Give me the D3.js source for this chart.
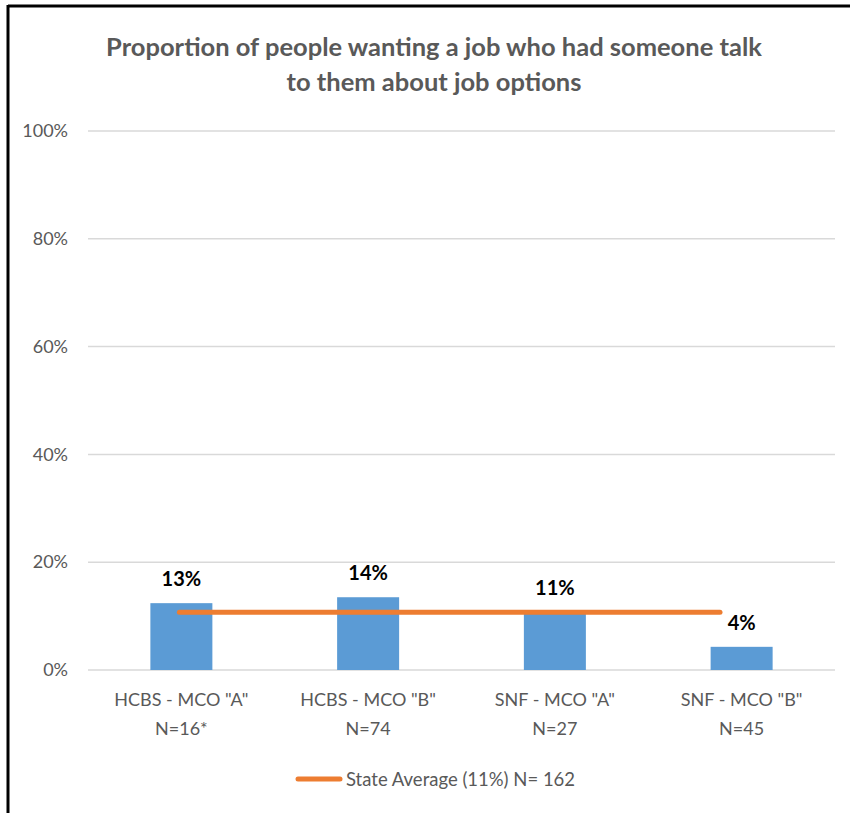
<!DOCTYPE html>
<html><head><meta charset="utf-8">
<script src="https://cdn.jsdelivr.net/npm/d3@7"></script>
<style>body{margin:0;background:#fff;} svg{display:block;}</style>
</head><body>
<svg id="c" width="850" height="813"></svg>
<script>
const categories = ['HCBS - MCO "A"', 'HCBS - MCO "B"', 'SNF - MCO "A"', 'SNF - MCO "B"'];
const sampleSizes = ['N=16*', 'N=74', 'N=27', 'N=45'];
const values = [12.4, 13.5, 10.8, 4.3];
const valueLabels = ['13%', '14%', '11%', '4%'];
const stateAverage = [10.7, 10.7, 10.7, 10.7];
const yTicks = [0, 20, 40, 60, 80, 100];
const titleLines = ['Proportion of people wanting a job who had someone talk', 'to them about job options'];
const legendLabel = 'State Average (11%) N= 162';

(function(){
const font = 'Lato, "Open Sans", sans-serif';
const svg = d3.select('#c');
svg.append('rect').attr('x',0).attr('y',0).attr('width',850).attr('height',813).attr('fill','#fff');
// frame
svg.append('line').attr('x1',8).attr('x2',850).attr('y1',6).attr('y2',6).attr('stroke','#000').attr('stroke-width',3);
svg.append('line').attr('x1',8).attr('x2',8).attr('y1',5).attr('y2',813).attr('stroke','#000').attr('stroke-width',3);

const pL = 88, pR = 835, pT = 131, pB = 670;
const x = d3.scaleBand().domain(categories).range([pL, pR]).paddingInner(0.668).paddingOuter(0.334);
const y = d3.scaleLinear().domain([0, 100]).range([pB, pT]);

// gridlines
svg.append('g').selectAll('line').data(yTicks).join('line')
  .attr('x1', pL).attr('x2', pR)
  .attr('y1', d => y(d)).attr('y2', d => y(d))
  .attr('stroke', '#d9d9d9').attr('stroke-width', 1.5);

// y axis labels
const yAxis = d3.axisLeft(y).tickValues(yTicks).tickFormat(d => d + '%').tickSize(0).tickPadding(20);
const ya = svg.append('g').attr('transform', `translate(${pL},0)`).call(yAxis);
ya.select('.domain').remove();
ya.selectAll('text').attr('fill', '#595959').style('font-family', font).style('font-size', '18px');

// bars
svg.append('g').selectAll('rect').data(values).join('rect')
  .attr('x', (d, i) => x(categories[i]))
  .attr('width', x.bandwidth())
  .attr('y', d => y(d))
  .attr('height', d => y(0) - y(d))
  .attr('fill', '#5b9bd5');

// state average line (secondary positioning)
const x2 = d3.scaleLinear().domain([0, stateAverage.length - 1]).range([x(categories[0]) + x.bandwidth()/2 - 2, 720]);
svg.append('path')
  .attr('d', d3.line().x((d, i) => x2(i)).y(d => y(d))(stateAverage))
  .attr('stroke', '#ed7d31').attr('stroke-width', 5).attr('fill', 'none').attr('stroke-linecap', 'round');

// value labels
svg.append('g').selectAll('text').data(values).join('text')
  .attr('x', (d, i) => x(categories[i]) + x.bandwidth()/2)
  .attr('y', d => y(d) - 17)
  .attr('text-anchor', 'middle')
  .attr('fill', '#000')
  .style('font-family', font).style('font-weight', 'bold').style('font-size', '20px')
  .text((d, i) => valueLabels[i]);

// category labels
const cat = svg.append('g');
categories.forEach((c, i) => {
  const cx = x(c) + x.bandwidth()/2;
  const t = cat.append('text').attr('x', cx).attr('y', 706).attr('text-anchor', 'middle')
    .attr('fill', '#595959').style('font-family', font).style('font-size', '18px');
  t.append('tspan').attr('x', cx).attr('dy', 0).text(c);
  t.append('tspan').attr('x', cx).attr('dy', 29).text(sampleSizes[i]);
});

// title
const title = svg.append('text').attr('text-anchor', 'middle').attr('fill', '#595959')
  .style('font-family', font).style('font-weight', 'bold').style('font-size', '25.5px');
titleLines.forEach((l, i) => title.append('tspan').attr('x', 434).attr('y', 56 + i * 35).text(l));

// legend
svg.append('line').attr('x1', 298).attr('x2', 340).attr('y1', 779).attr('y2', 779)
  .attr('stroke', '#ed7d31').attr('stroke-width', 5).attr('stroke-linecap', 'round');
svg.append('text').attr('x', 346).attr('y', 786).attr('fill', '#595959')
  .style('font-family', font).style('font-size', '18.5px').text(legendLabel);
})();
</script>
</body></html>
